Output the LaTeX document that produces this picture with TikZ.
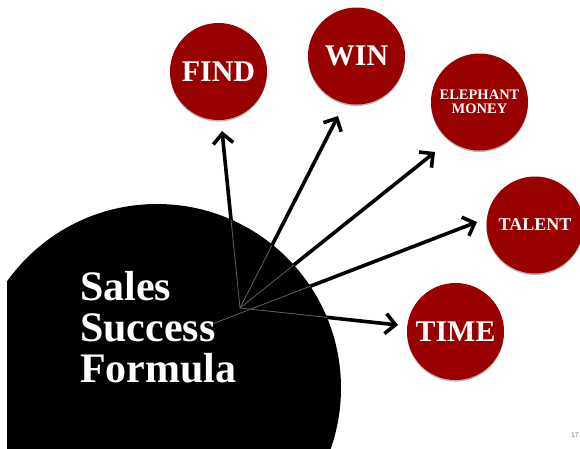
\documentclass[tikz,border=0pt]{standalone}
\usepackage{fontspec}
\setmainfont{Liberation Serif}
\setsansfont{Liberation Sans}
\usetikzlibrary{arrows.meta,shadows}
\definecolor{bubblered}{RGB}{153,0,0}
\begin{document}
\begin{tikzpicture}[x=1pt,y=-1pt,
  bubble/.style={circle, fill=bubblered, minimum size=97pt, inner sep=0pt,
    text=white, align=center,
    drop shadow={shadow xshift=0pt, shadow yshift=-1.6pt, opacity=0.28, fill=black}},
  bigword/.style={font=\bfseries\fontsize{30}{30}\selectfont},
  ray/.style={line width=3.6pt, -{Straight Barb[length=10pt,width=20pt]}},
  core/.style={draw=black!62, line width=0.8pt}
]
\useasboundingbox (0,0) rectangle (580,448);

% large black disc, cut off at the slide's left margin
\begin{scope}
  \clip (7,0) rectangle (580,448);
  \fill[black] (157,388) circle (184pt);
\end{scope}

% arrow origins and free arrow ends
\coordinate (hub) at (240,308);
\coordinate (hubB) at (207,326);
\coordinate (findtip) at (222,131);
\coordinate (wintip) at (338,116);
\coordinate (eletip) at (435,152);
\coordinate (talenttip) at (477,222);
\coordinate (timetip) at (398,325);

% arrows
\draw[ray] (hub) -- (findtip);
\draw[ray] (hub) -- (wintip);
\draw[ray] (hub) -- (eletip);
\draw[ray] (hubB) -- (talenttip);
\draw[ray] (hub) -- (timetip);

% thin grey cores where the arrows cross the disc
\begin{scope}
  \clip (157,388) circle (184pt);
  \draw[core] (hub) -- (findtip);
  \draw[core] (hub) -- (wintip);
  \draw[core] (hub) -- (eletip);
  \draw[core] (hubB) -- (talenttip);
  \draw[core] (hub) -- (timetip);
\end{scope}

% title on the disc (base anchor sits on the last line)
\node[anchor=base west, inner sep=0pt, text=white, align=left,
  font=\bfseries\fontsize{42}{41}\selectfont] (formula) at (80,382)
  {Sales\\Success\\Formula};

% red bubbles
\node[bubble, bigword] (find) at (218.5,71.5) {FIND};
\node[bubble, bigword] (win) at (356.5,56) {WIN};
\node[bubble, font=\bfseries\fontsize{14.5}{14}\selectfont] (money) at (479.5,102) {ELEPHANT\\MONEY};
\node[bubble, font=\bfseries\fontsize{18}{18}\selectfont] (talent) at (535,225) {TALENT};
\node[bubble, bigword] (time) at (455.5,331.5) {TIME};

% slide number
\node[anchor=base east, inner sep=0pt, text=gray,
  font=\sffamily\fontsize{7}{7}\selectfont] (pagenum) at (579,437) {17};
\end{tikzpicture}
\end{document}
